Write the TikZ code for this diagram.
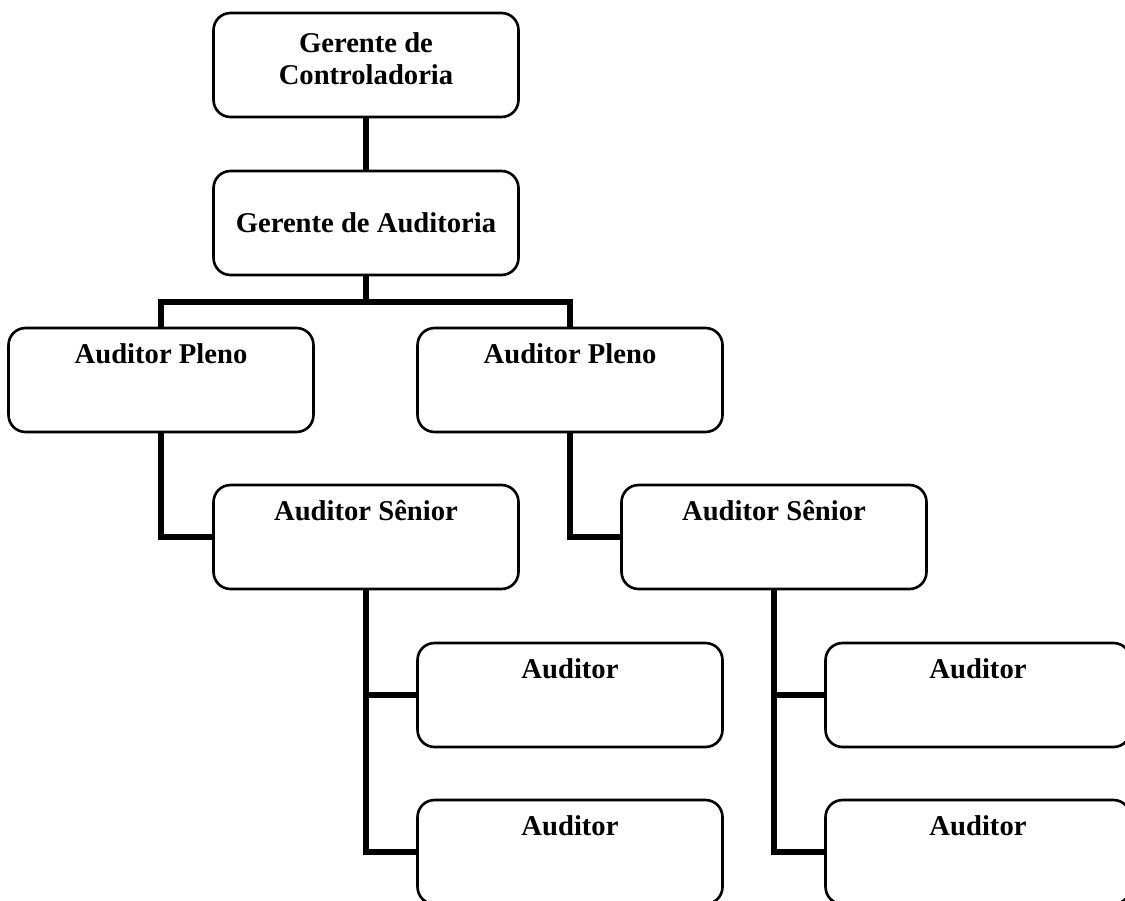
\documentclass[tikz,border=0pt]{standalone}
\usepackage{fontspec}
\setmainfont{Liberation Serif}
\begin{document}
\begin{tikzpicture}[x = 0.02cm, y = -0.02cm,
        orgbox/.style = {draw, line width = 1.5pt, rounded corners = 0.34cm,
            minimum width = 6.1cm, minimum height = 2.08cm, inner sep = 0pt,
            font = \bfseries\fontsize{16.3}{18.2}\selectfont},
        topbox/.style = {orgbox, text height = 0.7cm, text depth = 1.38cm},
        link/.style = {line width = 3pt}]
    \useasboundingbox (0, 0) rectangle (1125, 900);
    % boxes
    \node [orgbox, align = center, text height = 1.42cm, text depth = 0.66cm]
        (ctrl) at (366, 65) {Gerente de\\Controladoria};
    \node [orgbox] (gaud) at (366, 223) {Gerente de Auditoria};
    \node [topbox] (plenoA) at (161, 380) {Auditor Pleno};
    \node [topbox] (plenoB) at (570, 380) {Auditor Pleno};
    \node [topbox] (seniorA) at (366, 537) {Auditor Sênior};
    \node [topbox] (seniorB) at (774, 537) {Auditor Sênior};
    \node [topbox] (audA1) at (570, 695) {Auditor};
    \node [topbox] (audA2) at (570, 852) {Auditor};
    \node [topbox] (audB1) at (978, 695) {Auditor};
    \node [topbox] (audB2) at (978, 852) {Auditor};
    \coordinate (fork) at (366, 302);
    % links
    \draw [link] (ctrl) -- (gaud);
    \draw [link] (gaud) -- (fork);
    \draw [link] (plenoA.north) |- (fork) -| (plenoB.north);
    \draw [link] (plenoA.south) |- (seniorA.west);
    \draw [link] (plenoB.south) |- (seniorB.west);
    \draw [link] (seniorA.south) |- (audA1.west);
    \draw [link] (seniorA.south) |- (audA2.west);
    \draw [link] (seniorB.south) |- (audB1.west);
    \draw [link] (seniorB.south) |- (audB2.west);
\end{tikzpicture}
\end{document}
